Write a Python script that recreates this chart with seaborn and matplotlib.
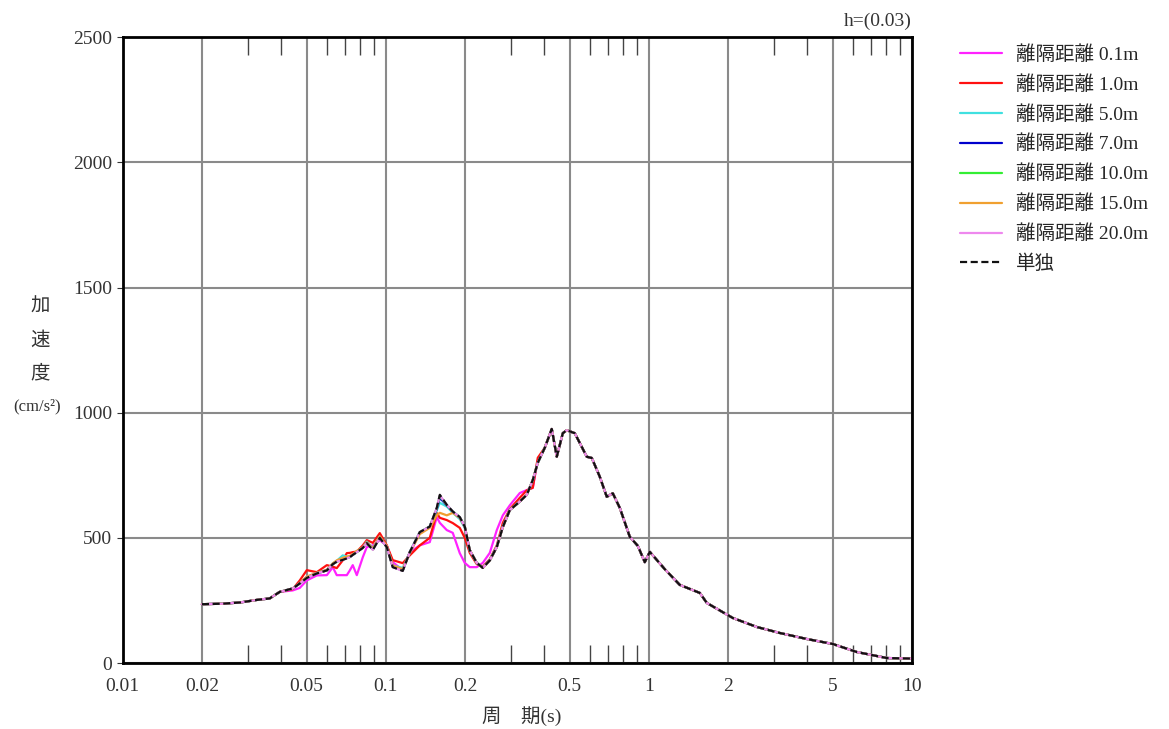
import numpy as np
import pandas as pd
import matplotlib
matplotlib.use("Agg")
import matplotlib.pyplot as plt
import seaborn as sns
from matplotlib.ticker import FixedLocator, NullFormatter

# --- periods (s) ---
low_periods = [0.020, 0.024, 0.028, 0.0323, 0.0362, 0.0395]
mid_periods = [0.0443, 0.0471, 0.0501, 0.0547, 0.0597, 0.0629, 0.0651, 0.0686, 0.0711, 0.0730,
               0.0749, 0.0776, 0.0818, 0.0847, 0.0893, 0.0949, 0.1009, 0.1063, 0.1160, 0.1234,
               0.1347, 0.1470, 0.1563, 0.1605, 0.1706, 0.1798, 0.1911, 0.1997, 0.2086, 0.2218,
               0.2338, 0.2486, 0.2643, 0.2786, 0.2962, 0.3232, 0.3437, 0.3622, 0.3784]
tail_periods = [0.4023, 0.4277, 0.4468, 0.4710, 0.4877, 0.5232, 0.5812, 0.6072, 0.6512, 0.6922,
                0.7296, 0.7757, 0.8469, 0.9083, 0.9656, 1.009, 1.150, 1.312, 1.563, 1.662,
                2.086, 2.574, 3.149, 3.989, 5.008, 6.178, 8.034, 9.83, 10.0]

# --- acceleration (cm/s2), shared parts ---
low_acc = [235, 237, 242, 252, 258, 284]
tail_acc = [860, 935, 824, 918, 930, 918, 824, 819, 744, 664,
            678, 620, 504, 468, 403, 444, 375, 312, 280, 240,
            180, 144, 120, 96, 76, 44, 20, 18, 18]

# --- acceleration, part that differs by separation distance ---
mid_01 = [290, 300, 330, 350, 351, 383, 351, 351, 351, 370, 391, 351, 423, 463, 470, 491, 470, 403, 371, 443,
          470, 483, 583, 560, 531, 520, 439, 400, 383, 383, 400, 440, 531, 590, 630, 679, 691, 700, 810]
mid_10 = [295, 330, 371, 363, 391, 385, 379, 410, 439, 440, 443, 445, 470, 491, 480, 519, 470, 411, 399, 430,
          470, 500, 599, 580, 571, 559, 540, 500, 440, 395, 385, 415, 470, 560, 615, 660, 690, 700, 820]
mid_50 = [298, 318, 345, 360, 372, 398, 408, 430, 425, 425, 432, 445, 462, 485, 460, 505, 465, 390, 380, 440,
          520, 545, 610, 640, 625, 600, 575, 540, 450, 400, 382, 412, 465, 545, 612, 645, 672, 731, 800]
mid_70 = [298, 318, 342, 358, 370, 395, 405, 415, 420, 424, 432, 444, 460, 480, 455, 502, 464, 385, 370, 443,
          522, 545, 615, 660, 630, 605, 582, 545, 451, 400, 380, 410, 463, 543, 611, 645, 672, 731, 800]
mid_100 = [298, 318, 341, 358, 370, 395, 405, 413, 419, 423, 432, 443, 460, 479, 453, 501, 463, 384, 369, 443,
           523, 545, 618, 668, 631, 605, 583, 545, 451, 400, 380, 410, 463, 543, 611, 645, 672, 731, 800]
mid_150 = [298, 320, 345, 360, 372, 398, 410, 420, 425, 428, 435, 448, 462, 482, 458, 505, 468, 390, 375, 440,
           515, 540, 590, 600, 590, 600, 580, 545, 451, 400, 380, 410, 463, 543, 611, 645, 672, 731, 800]
mid_200 = [298, 318, 340, 358, 370, 395, 405, 412, 418, 423, 432, 443, 460, 479, 452, 500, 463, 383, 368, 443,
           523, 545, 620, 670, 632, 605, 583, 545, 451, 400, 380, 410, 463, 543, 611, 645, 672, 731, 800]
mid_single = [298, 318, 340, 358, 370, 395, 405, 412, 418, 423, 432, 443, 460, 479, 452, 500, 463, 383, 368, 443,
              523, 545, 620, 672, 632, 605, 583, 545, 451, 400, 380, 410, 463, 543, 611, 645, 672, 731, 800]

labels = ["離隔距離 0.1m", "離隔距離 1.0m", "離隔距離 5.0m", "離隔距離 7.0m",
          "離隔距離 10.0m", "離隔距離 15.0m", "離隔距離 20.0m", "単独"]
mids = [mid_01, mid_10, mid_50, mid_70, mid_100, mid_150, mid_200, mid_single]
colors = ["#ff22ff", "#ff1010", "#40e0e0", "#0000cc", "#33ee33", "#f0a030", "#ee88ee", "#111111"]

periods = low_periods + mid_periods + tail_periods
rows = []
for lab, mid in zip(labels, mids):
    acc = low_acc + mid + tail_acc
    for p, a in zip(periods, acc):
        rows.append({"period": p, "acc": a, "series": lab})
df = pd.DataFrame(rows)

sns.set_style("white")
plt.rcParams["font.family"] = ["Liberation Serif", "Noto Sans CJK JP", "DejaVu Sans"]

fig = plt.figure(figsize=(11.69, 7.29), dpi=100)
ax = fig.add_axes([0.105, 0.0905, 0.675, 0.8585])

palette = dict(zip(labels, colors))
dashes = {lab: "" for lab in labels}
dashes["単独"] = (3.2, 1.6)
sns.lineplot(data=df, x="period", y="acc", hue="series", style="series",
             palette=palette, dashes=dashes, estimator=None, sort=False,
             linewidth=1.6, ax=ax)

ax.set_xscale("log")
ax.set_xlim(0.01, 10)
ax.set_ylim(0, 2500)

major = [0.01, 0.02, 0.05, 0.1, 0.2, 0.5, 1, 2, 5, 10]
ax.xaxis.set_major_locator(FixedLocator(major))
ax.set_xticklabels(["0.01", "0.02", "0.05", "0.1", "0.2", "0.5", "1", "2", "5", "10"])
minor = [0.03, 0.04, 0.06, 0.07, 0.08, 0.09, 0.3, 0.4, 0.6, 0.7, 0.8, 0.9, 3, 4, 6, 7, 8, 9]
ax.xaxis.set_minor_locator(FixedLocator(minor))
ax.xaxis.set_minor_formatter(NullFormatter())
ax.set_yticks([0, 500, 1000, 1500, 2000, 2500])

ax.grid(True, which="major", color="#8a8a8a", linewidth=1.5)
ax.tick_params(axis="x", which="major", length=0, labelsize=14, pad=11, colors="#333333")
ax.tick_params(axis="x", which="minor", direction="in", length=13, width=1,
               top=True, bottom=True, color="#444444")
ax.tick_params(axis="y", which="major", direction="out", length=4, left=True,
               labelsize=14, colors="#333333")
for s in ax.spines.values():
    s.set_color("black")
    s.set_linewidth(2)

ax.set_xlabel("")
ax.set_ylabel("")
fig.text(0.446, 0.004, "周　期(s)", fontsize=14, ha="center", va="bottom", color="#333333")
for txt, y in [("加", 0.579), ("速", 0.533), ("度", 0.488)]:
    fig.text(0.034, y, txt, fontsize=14, ha="center", va="center", color="#333333")
fig.text(0.032, 0.442, "(cm/s²)", fontsize=12, ha="center", va="center", color="#333333")
ax.text(1.0, 1.012, "h=(0.03)", transform=ax.transAxes, ha="right", va="bottom",
        fontsize=14, color="#333333")

sns.move_legend(ax, "upper left", bbox_to_anchor=(1.051, 1.0), frameon=False, title=None,
                fontsize=14, handlelength=2.15, labelspacing=0.58, handletextpad=0.75,
                borderaxespad=0)

fig.savefig("out.png", dpi=100)
